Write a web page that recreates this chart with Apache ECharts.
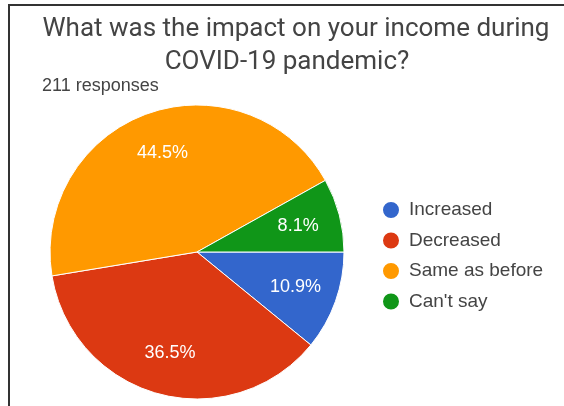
<!DOCTYPE html>
<html>
<head>
<meta charset="utf-8">
<script src="https://cdn.jsdelivr.net/npm/echarts@6/dist/echarts.min.js"></script>
<style>
html,body{margin:0;padding:0;background:#fff;}
#c{width:564px;height:406px;}
</style>
</head>
<body>
<div id="c"></div>
<script>
const categories = ["Increased", "Decreased", "Same as before", "Can't say"];
const values = [10.9, 36.5, 44.5, 8.1];
const colors = ["#3366cc", "#dc3912", "#ff9900", "#109618"];
const titleLines = ["What was the impact on your income during", "COVID-19 pandemic?"];
const subtitle = "211 responses";

const data = categories.map((n, i) => ({ name: n, value: values[i], itemStyle: { color: colors[i] } }));
const labelData = categories.map((n, i) => ({ name: n, value: values[i] }));

const titleStyle = { fontFamily: 'Roboto', fontSize: 26, fontWeight: 'normal', color: '#444' };

const chart = echarts.init(document.getElementById('c'), null, { renderer: 'canvas' });
chart.setOption({
  animation: false,
  backgroundColor: '#fff',
  title: [
    { text: titleLines[0], left: 296, top: 16, textAlign: 'center', padding: 0, textStyle: titleStyle },
    { text: titleLines[1], left: 287, top: 49, textAlign: 'center', padding: 0, textStyle: titleStyle },
    { text: subtitle, left: 42, top: 77, padding: 0,
      textStyle: { fontFamily: 'Liberation Sans', fontSize: 18, fontWeight: 'normal', color: '#444' } }
  ],
  legend: {
    orient: 'vertical', left: 381, top: 200, padding: 0,
    icon: 'circle', itemWidth: 18, itemHeight: 18, itemGap: 10.5,
    data: categories,
    textStyle: { fontFamily: 'Liberation Sans', fontSize: 19, lineHeight: 18, color: '#444', padding: [0, 0, 0, 4] },
    selectedMode: false
  },
  graphic: [
    { type: 'rect', shape: { x: 8, y: 4, width: 2, height: 402 }, style: { fill: '#333' }, silent: true },
    { type: 'rect', shape: { x: 8, y: 4, width: 556, height: 2 }, style: { fill: '#333' }, silent: true }
  ],
  series: [
    {
      type: 'pie', center: [197, 252], radius: 147, startAngle: 0, clockwise: true,
      data: data, label: { show: false }, labelLine: { show: false },
      itemStyle: { borderColor: '#fff', borderWidth: 1 },
      emphasis: { disabled: true }, silent: true
    },
    {
      type: 'pie', center: [197, 252], radius: [56, 147], startAngle: 0, clockwise: true,
      data: labelData,
      itemStyle: { color: 'rgba(0,0,0,0)' },
      label: { show: true, position: 'inside', formatter: p => p.value.toFixed(1) + '%',
        fontFamily: 'Liberation Sans', fontSize: 18, color: '#fff' },
      labelLine: { show: false },
      emphasis: { disabled: true }, silent: true
    }
  ]
});
</script>
</body>
</html>
